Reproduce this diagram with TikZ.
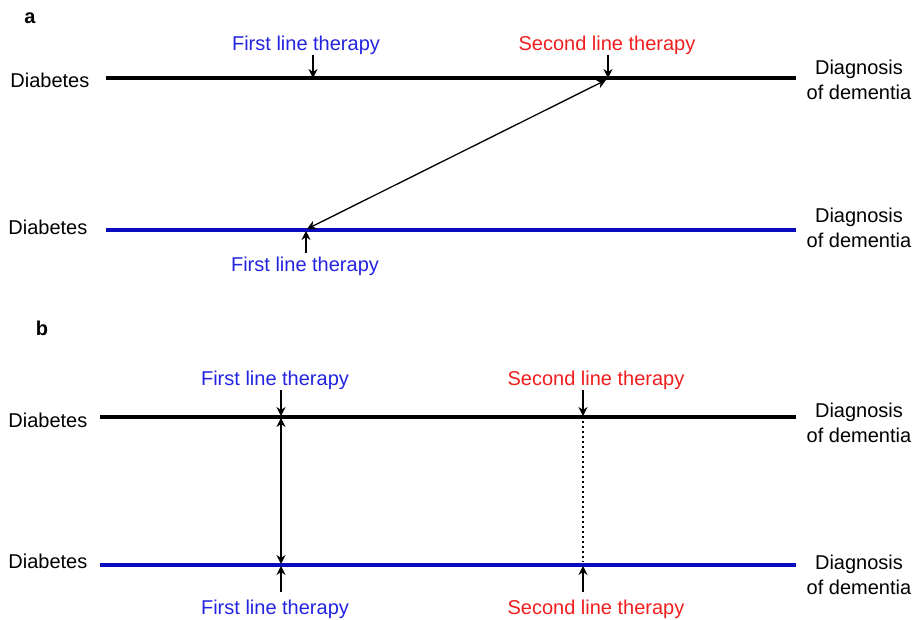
\documentclass[tikz,border=0pt]{standalone}
\usepackage{fontspec}
\setmainfont{Liberation Sans}
\usepackage{xcolor}
\usetikzlibrary{positioning,arrows.meta}

\definecolor{firstblue}{RGB}{35,35,225}
\definecolor{secondred}{RGB}{240,30,30}
\definecolor{lineblue}{RGB}{10,10,190}

\begin{document}
\begin{tikzpicture}[x=0.5pt,y=-0.5pt,
  lbl/.style={font=\fontsize{10}{12.5}\selectfont,inner sep=0pt},
  panel/.style={font=\fontsize{10}{12.5}\selectfont\bfseries,inner sep=0pt},
  firstlbl/.style={lbl,text=firstblue},
  secondlbl/.style={lbl,text=secondred},
  tline/.style={line width=1.6pt},
  ptr/.style={line width=0.65pt,-{Stealth[length=4.5pt,width=4.5pt]}},
  link/.style={line width=0.65pt,{Stealth[length=4.5pt,width=4.5pt]}-{Stealth[length=4.5pt,width=4.5pt]}}]
  \useasboundingbox (0,0) rectangle (917,620);

  % panel a
  \node[panel] (pa) at (30,18) {a};
  \node[lbl,anchor=west] (da1) at (10,80) {Diabetes};
  \node[lbl,anchor=west] (da2) at (8,227) {Diabetes};
  \node[lbl,align=center] (ga1) at (859,80) {Diagnosis\\of dementia};
  \node[lbl,align=center] (ga2) at (859,228) {Diagnosis\\of dementia};
  \coordinate (sa1) at (106,78);
  \coordinate (ea1) at (796,78);
  \coordinate (sa2) at (106,230);
  \coordinate (ea2) at (796,230);
  \draw[tline] (sa1) -- (ea1);
  \draw[tline,lineblue] (sa2) -- (ea2);
  \node[firstlbl] (fa1) at (306,45) {First line therapy};
  \node[secondlbl] (ka1) at (607,45) {Second line therapy};
  \node[firstlbl] (fa2) at (305,266) {First line therapy};
  \coordinate (ta1) at (313,55);
  \coordinate (pa1) at (313,78);
  \coordinate (ta2) at (608,55);
  \coordinate (pa2) at (608,78);
  \coordinate (ta3) at (306,253);
  \coordinate (pa3) at (306,231);
  \draw[ptr] (ta1) -- (pa1);
  \draw[ptr] (ta2) -- (pa2);
  \draw[ptr] (ta3) -- (pa3);
  \coordinate (qa1) at (606,80);
  \coordinate (qa2) at (307,229);
  \draw[link] (qa2) -- (qa1);

  % panel b
  \node[panel] (pb) at (42,328) {b};
  \node[lbl,anchor=west] (db1) at (8,420) {Diabetes};
  \node[lbl,anchor=west] (db2) at (8,561) {Diabetes};
  \node[lbl,align=center] (gb1) at (859,423) {Diagnosis\\of dementia};
  \node[lbl,align=center] (gb2) at (859,575) {Diagnosis\\of dementia};
  \coordinate (sb1) at (100,417);
  \coordinate (eb1) at (796,417);
  \coordinate (sb2) at (100,565);
  \coordinate (eb2) at (796,565);
  \draw[tline] (sb1) -- (eb1);
  \draw[tline,lineblue] (sb2) -- (eb2);
  \node[firstlbl] (fb1) at (275,380) {First line therapy};
  \node[secondlbl] (kb1) at (596,380) {Second line therapy};
  \node[firstlbl] (fb2) at (275,609) {First line therapy};
  \node[secondlbl] (kb2) at (596,609) {Second line therapy};
  \coordinate (tb1) at (281,390);
  \coordinate (pb1) at (281,416);
  \coordinate (tb2) at (583,390);
  \coordinate (pb2) at (583,416);
  \coordinate (tb3) at (281,592);
  \coordinate (pb3) at (281,566);
  \coordinate (tb4) at (583,592);
  \coordinate (pb4) at (583,566);
  \draw[ptr] (tb1) -- (pb1);
  \draw[ptr] (tb2) -- (pb2);
  \draw[ptr] (tb3) -- (pb3);
  \draw[ptr] (tb4) -- (pb4);
  \coordinate (qb1) at (281,418);
  \coordinate (qb2) at (281,564);
  \draw[link] (qb1) -- (qb2);
  \coordinate (qb3) at (583,421);
  \coordinate (qb4) at (583,562);
  \draw[line width=0.6pt,dash pattern=on 1pt off 1.5pt] (qb3) -- (qb4);
\end{tikzpicture}
\end{document}
